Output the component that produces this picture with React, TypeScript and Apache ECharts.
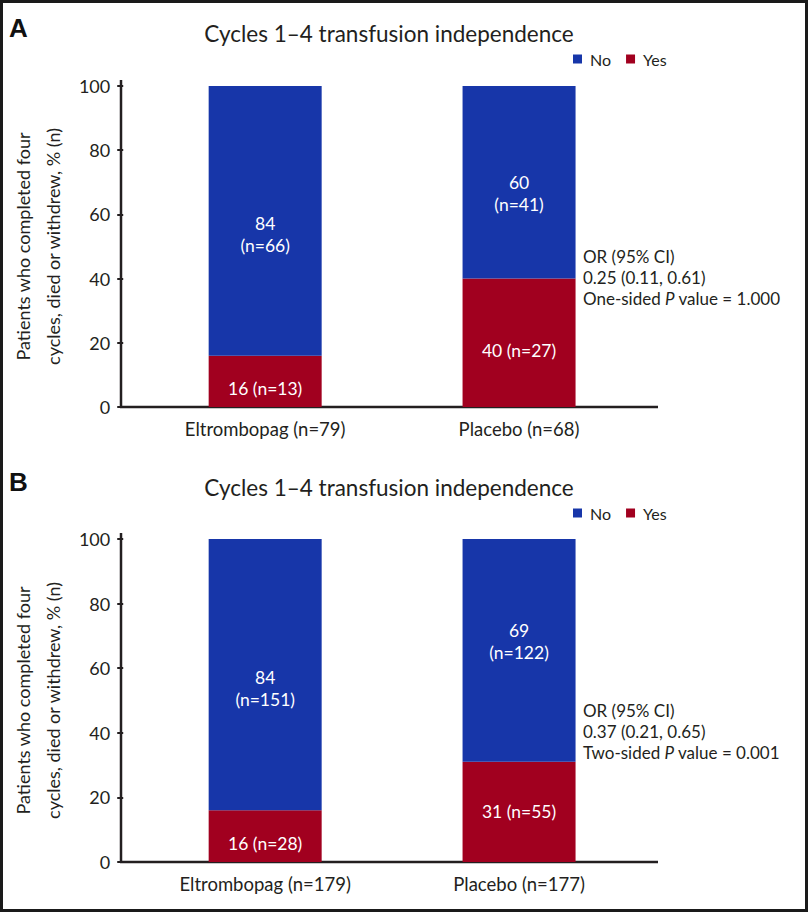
import React, { useEffect, useRef } from "react";
import * as echarts from "echarts";

// ---------- data ----------
const TITLE = "Cycles 1–4 transfusion independence";
const SERIES_NAMES = ["No", "Yes"];

const CATEGORIES_A = ["Eltrombopag (n=79)", "Placebo (n=68)"];
const NO_PCT_A = [84, 60];
const NO_N_A = [66, 41];
const YES_PCT_A = [16, 40];
const YES_N_A = [13, 27];
const STATS_A = ["OR (95% CI)", "0.25 (0.11, 0.61)", "One-sided", "1.000"];

const CATEGORIES_B = ["Eltrombopag (n=179)", "Placebo (n=177)"];
const NO_PCT_B = [84, 69];
const NO_N_B = [151, 122];
const YES_PCT_B = [16, 31];
const YES_N_B = [28, 55];
const STATS_B = ["OR (95% CI)", "0.37 (0.21, 0.65)", "Two-sided", "0.001"];

const Y_MIN = 0;
const Y_MAX = 100;
const Y_INTERVAL = 20;
const Y_NAME = "Patients who completed four\ncycles, died or withdrew, % (n)";

// ---------- style / layout ----------
const FONT = "Lato, 'Noto Sans', sans-serif";
const INK = "#231f20";
const BLUE = "#1736a9";
const RED = "#a1001f";
const AXIS_X = 121;
const AXIS_END = 658;
const GRID_LEFT = 136;
const GRID_WIDTH = 510;
const PANELS = [
  { letter: "A", top: 86, height: 321, dy: 0, nudgeNo: [14, 11], nudgeYes: [7, 8] },
  { letter: "B", top: 539, height: 323, dy: 454, nudgeNo: [14, -9], nudgeYes: [7, 0] },
];

export default function App() {
  const ref = useRef<HTMLDivElement>(null);

  useEffect(() => {
    if (!ref.current) return;
    const chart = echarts.init(ref.current, null, { renderer: "svg" });

    const datasets = [
      { cats: CATEGORIES_A, no: NO_PCT_A, noN: NO_N_A, yes: YES_PCT_A, yesN: YES_N_A, stats: STATS_A },
      { cats: CATEGORIES_B, no: NO_PCT_B, noN: NO_N_B, yes: YES_PCT_B, yesN: YES_N_B, stats: STATS_B },
    ];

    const grids: any[] = [];
    const xAxes: any[] = [];
    const yAxes: any[] = [];
    const series: any[] = [];
    const legends: any[] = [];
    const graphics: any[] = [
      {
        type: "rect",
        shape: { x: 1.5, y: 1.5, width: 805, height: 909 },
        style: { fill: "none", stroke: "#1a1a1a", lineWidth: 3 },
        silent: true,
      },
    ];

    PANELS.forEach((p, i) => {
      const d = datasets[i];
      const bottom = p.top + p.height;
      grids.push({ left: GRID_LEFT, width: GRID_WIDTH, top: p.top, height: p.height });
      xAxes.push({
        type: "category",
        gridIndex: i,
        data: d.cats,
        axisLine: { show: false },
        axisTick: { show: false },
        axisLabel: { color: INK, fontSize: 18.5, fontFamily: FONT, margin: 12 },
      });
      yAxes.push({
        type: "value",
        gridIndex: i,
        min: Y_MIN,
        max: Y_MAX,
        interval: Y_INTERVAL,
        offset: GRID_LEFT - AXIS_X,
        axisLine: { show: false },
        axisTick: { show: true, length: 6, lineStyle: { color: INK, width: 2 } },
        splitLine: { show: false },
        axisLabel: { color: INK, fontSize: 18, fontFamily: FONT, margin: 13 },
        name: Y_NAME,
        nameLocation: "middle",
        nameRotate: 90,
        nameGap: 43,
        nameTextStyle: { color: INK, fontSize: 18, fontFamily: FONT, lineHeight: 30 },
      });
      series.push({
        name: "Yes",
        type: "bar",
        stack: "s" + i,
        xAxisIndex: i,
        yAxisIndex: i,
        barWidth: 113,
        itemStyle: { color: RED },
        data: d.yes.map((v, k) => ({ value: v, label: { offset: [0, p.nudgeYes[k]] } })),
        label: {
          show: true,
          position: "inside",
          color: "#fff",
          fontSize: 17.5,
          fontFamily: FONT,
          formatter: (q: any) => `${q.value} (n=${d.yesN[q.dataIndex]})`,
        },
      });
      series.push({
        name: "No",
        type: "bar",
        stack: "s" + i,
        xAxisIndex: i,
        yAxisIndex: i,
        barWidth: 113,
        itemStyle: { color: BLUE },
        data: d.no.map((v, k) => ({ value: v, label: { offset: [0, p.nudgeNo[k]] } })),
        label: {
          show: true,
          position: "inside",
          color: "#fff",
          fontSize: 17.5,
          lineHeight: 22,
          fontFamily: FONT,
          formatter: (q: any) => `${q.value}\n(n=${d.noN[q.dataIndex]})`,
        },
      });
      legends.push({
        data: SERIES_NAMES,
        left: 573,
        top: 51 + p.dy,
        icon: "rect",
        itemWidth: 9,
        itemHeight: 9,
        itemGap: 15,
        padding: 0,
        selectedMode: false,
        textStyle: { color: INK, fontSize: 16, fontFamily: FONT, padding: [0, 0, 0, 3] },
      });
      // axis lines
      graphics.push({
        type: "line",
        shape: { x1: AXIS_X, y1: p.top - 6, x2: AXIS_X, y2: bottom + 1 },
        style: { stroke: INK, lineWidth: 2.5 },
        silent: true,
      });
      graphics.push({
        type: "line",
        shape: { x1: AXIS_X - 1, y1: bottom, x2: AXIS_END, y2: bottom },
        style: { stroke: INK, lineWidth: 2.5 },
        silent: true,
      });
      // panel letter and title
      graphics.push({
        type: "text",
        x: 9,
        y: 28 + p.dy,
        style: {
          text: p.letter,
          font: "bold 26px 'Liberation Sans', Arial, sans-serif",
          fill: "#111",
          verticalAlign: "middle",
        },
      });
      graphics.push({
        type: "text",
        x: 389,
        y: 33 + p.dy,
        style: {
          text: TITLE,
          fontSize: 22.5,
          fontFamily: FONT,
          fill: INK,
          align: "center",
          verticalAlign: "middle",
        },
      });
      // stats annotation
      const s = d.stats;
      graphics.push({
        type: "text",
        x: 583,
        y: 245.5 + p.dy,
        style: {
          text: `${s[0]}\n${s[1]}\n${s[2]} {i|P} value = ${s[3]}`,
          fontSize: 17,
          fontFamily: FONT,
          fill: INK,
          lineHeight: 21,
          align: "left",
          verticalAlign: "top",
          rich: {
            i: { fontSize: 17, fontFamily: FONT, fontStyle: "italic", fill: INK, lineHeight: 21 },
          },
        },
      });
    });

    chart.setOption({
      animation: false,
      backgroundColor: "#fff",
      grid: grids,
      xAxis: xAxes,
      yAxis: yAxes,
      legend: legends,
      series,
      graphic: graphics,
    });

    return () => chart.dispose();
  }, []);

  return (
    <div
      ref={ref}
      style={{ position: "absolute", left: 0, top: 0, width: 810, height: 913 }}
    />
  );
}
